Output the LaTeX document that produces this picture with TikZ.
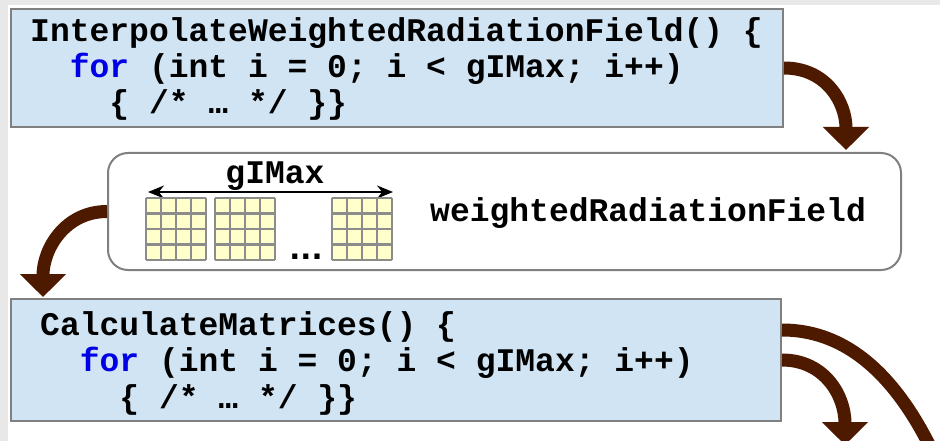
\documentclass[tikz,border=0pt]{standalone}
\usepackage{fontspec}
\setmonofont{Liberation Mono}
\newfontfamily\dotfont{DejaVu Sans}
\usetikzlibrary{arrows.meta}
\definecolor{boxblue}{RGB}{208,228,243}
\definecolor{bordergray}{RGB}{128,128,128}
\definecolor{arrowbrown}{RGB}{77,26,0}
\definecolor{forblue}{RGB}{0,0,230}
\definecolor{cellyellow}{RGB}{255,255,204}
\definecolor{gridgray}{RGB}{140,140,140}
\definecolor{edgegray}{RGB}{232,232,232}
\tikzset{
  codebox/.style={draw=bordergray, line width=2pt, fill=boxblue, inner sep=0pt, anchor=north west},
  databox/.style={draw=bordergray, line width=2pt, fill=white, rounded corners=20pt, inner sep=0pt, anchor=north west},
  code/.style={font=\fontsize{33}{36}\selectfont\ttfamily\bfseries, anchor=base west, inner sep=0pt},
  bigarrow/.style={draw=arrowbrown, line width=13pt, -{Triangle[width=45pt,length=23pt]}},
  bigline/.style={draw=arrowbrown, line width=13pt},
  dimarrow/.style={draw=black, line width=2pt, {Stealth[length=16pt,width=13pt]}-{Stealth[length=16pt,width=13pt]}},
  mgrid/.pic={
    \fill[cellyellow] (0,0) rectangle (60,62);
    \foreach \i in {0,...,4}{
      \draw[gridgray, line width=2.5pt] (\i*15,0) -- (\i*15,62);
      \draw[gridgray, line width=2.5pt] (0,\i*15.5) -- (60,\i*15.5);
    }
  }
}
\begin{document}
\begin{tikzpicture}[x=1pt,y=-1pt]
\useasboundingbox (0,0) rectangle (940,441);
\clip (0,0) rectangle (940,441);
\fill[white] (0,0) rectangle (940,441);
\fill[edgegray] (0,0) rectangle (940,5);
\fill[edgegray] (0,0) rectangle (8,441);

% box 1
\node[codebox, minimum width=772pt, minimum height=118pt] (f1) at (10,8) {};
\node[code] (t1a) at (30,42) {InterpolateWeightedRadiationField() \{};
\node[code] (t1b) at (69.6,78) {\textcolor{forblue}{for} (int i = 0; i < gIMax; i++)};
\node[code] (t1c) at (109.2,114) {\{ /* … */ \}\}};

% box 2
\node[databox, minimum width=793pt, minimum height=117pt] (f2) at (107,152) {};
\node[code, anchor=base] (gl) at (275,183) {gIMax};
\coordinate (dl) at (148,192);
\coordinate (dr) at (393,192);
\draw[dimarrow] (dl) -- (dr);
\pic at (146,198) {mgrid};
\pic at (215,198) {mgrid};
\pic at (332,198) {mgrid};
\node[font=\fontsize{29}{29}\selectfont\dotfont\bfseries, anchor=base, inner sep=0pt] (dots) at (306,259) {...};
\node[code] (wr) at (430,222) {weightedRadiationField};

% box 3
\node[codebox, minimum width=770pt, minimum height=122pt] (f3) at (10,298) {};
\node[code] (t3a) at (40,335) {CalculateMatrices() \{};
\node[code] (t3b) at (79.6,371) {\textcolor{forblue}{for} (int i = 0; i < gIMax; i++)};
\node[code] (t3c) at (119.2,408) {\{ /* … */ \}\}};

% arrows
\coordinate (a1e) at (846,150);
\coordinate (a2e) at (43,297);
\coordinate (a4e) at (845,445);
\coordinate (a3e) at (960,520);
\draw[bigarrow] (f1.east) .. controls +(42,0) and +(0,-48) .. (a1e);
\draw[bigarrow] (f2.west) .. controls +(-42,0) and +(0,-48) .. (a2e);
\draw[bigline] (f3.north east) ++(0,32) .. controls +(80,0) and +(-40,-120) .. (a3e);
\draw[bigarrow] (f3.east) .. controls +(42,0) and +(0,-50) .. (a4e);
\end{tikzpicture}
\end{document}
